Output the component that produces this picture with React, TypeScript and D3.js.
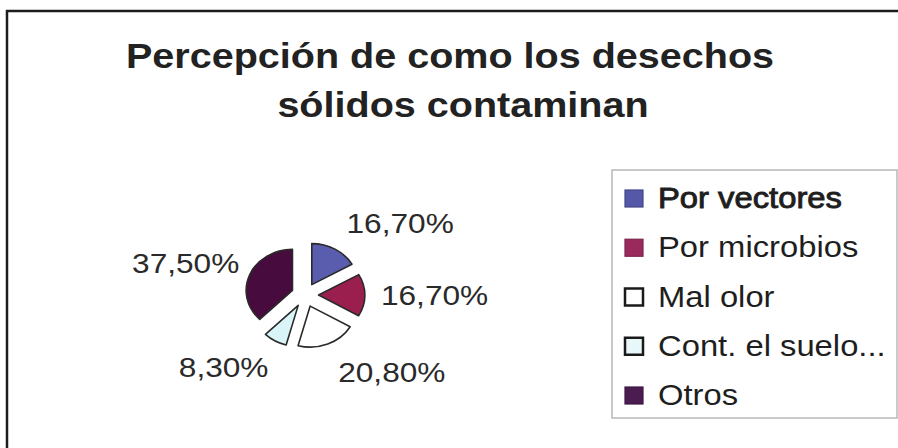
import React from "react";
import * as d3 from "d3";

const categories = ["Por vectores", "Por microbios", "Mal olor", "Cont. el suelo...", "Otros"];
const values = [16.7, 16.7, 20.8, 8.3, 37.5];
const valueLabels = ["16,70%", "16,70%", "20,80%", "8,30%", "37,50%"];
const sliceColors = ["#5a5cae", "#9a1f4e", "#ffffff", "#d9f5f8", "#470b3e"];
const swatchColors = ["#5558a8", "#9a2a5c", "#ffffff", "#e8f8fa", "#4a1c50"];
const titleLines = ["Percepción de como los desechos", "sólidos contaminan"];

const W = 898;
const H = 448;
const SX = 1.13; // horizontal stretch of the scanned original
const FONT = "Arial, 'Liberation Sans', Helvetica, sans-serif";

export default function App() {
  const cx = 305;
  const cy = 295;
  const r = 41;
  const explode = 12;

  const pie = d3.pie<number>().sort(null).value((d) => d)(values);
  const arc = d3.arc<d3.PieArcDatum<number>>().innerRadius(0).outerRadius(r);

  const labelR = r + explode + 8;

  const legendX = 612;
  const legendY = 170;
  const legendW = 285;
  const legendH = 248;
  const rowY = d3.scaleLinear().domain([0, categories.length - 1]).range([208, 405]);

  return (
    <svg
      width={W}
      height={H}
      style={{ position: "absolute", left: 0, top: 0, background: "#fff" }}
      fontFamily={FONT}
    >
      <rect x={0} y={0} width={W} height={H} fill="#fff" />
      {/* outer frame */}
      <line x1={6} y1={11} x2={W} y2={11} stroke="#1c1c1c" strokeWidth={2.5} />
      <line x1={7} y1={10} x2={7} y2={H} stroke="#1c1c1c" strokeWidth={2.5} />

      {/* title */}
      <text
        transform={`translate(450,68) scale(${SX},1)`}
        textAnchor="middle"
        fontSize={35}
        fontWeight="bold"
        fill="#222"
      >
        {titleLines[0]}
      </text>
      <text
        transform={`translate(463,117) scale(${SX},1)`}
        textAnchor="middle"
        fontSize={35}
        fontWeight="bold"
        fill="#222"
      >
        {titleLines[1]}
      </text>

      {/* pie */}
      <g transform={`translate(${cx},${cy}) scale(${SX},1)`}>
        {pie.map((p, i) => {
          const mid = (p.startAngle + p.endAngle) / 2;
          const ox = Math.sin(mid) * explode;
          const oy = -Math.cos(mid) * explode;
          return (
            <path
              key={i}
              d={arc(p) || ""}
              transform={`translate(${ox},${oy})`}
              fill={sliceColors[i]}
              stroke="#2a2a2a"
              strokeWidth={1.6}
              strokeLinejoin="round"
              vectorEffect="non-scaling-stroke"
            />
          );
        })}
      </g>

      {/* data labels */}
      {pie.map((p, i) => {
        const mid = (p.startAngle + p.endAngle) / 2;
        const s = Math.sin(mid);
        const c = Math.cos(mid);
        const px = cx + s * labelR * SX;
        const py = cy - c * labelR;
        const anchor = s > 0.2 ? "start" : s < -0.2 ? "end" : "middle";
        const x = anchor === "start" ? px + 7 : anchor === "end" ? px - 2 : px;
        const y = py + 10 - 22 * c;
        return (
          <text
            key={i}
            transform={`translate(${x},${y}) scale(${SX},1)`}
            textAnchor={anchor}
            fontSize={28}
            fill="#2a2a2a"
          >
            {valueLabels[i]}
          </text>
        );
      })}

      {/* legend */}
      <rect
        x={legendX}
        y={legendY}
        width={legendW}
        height={legendH}
        fill="#fff"
        stroke="#b8b8b8"
        strokeWidth={1.5}
      />
      {categories.map((name, i) => {
        const y = rowY(i);
        const outlined = i === 2 || i === 3;
        return (
          <g key={name}>
            <rect
              x={625}
              y={y - 18}
              width={18}
              height={17}
              fill={swatchColors[i]}
              stroke={outlined ? "#1a1a1a" : d3.color(swatchColors[i])!.darker(0.6).toString()}
              strokeWidth={outlined ? 2.5 : 1.2}
            />
            <text
              transform={`translate(658,${y}) scale(${SX},1)`}
              fontSize={29}
              fill="#1e1e1e"
              stroke={i === 0 ? "#1e1e1e" : "none"}
              strokeWidth={i === 0 ? 0.9 : 0}
            >
              {name}
            </text>
          </g>
        );
      })}
    </svg>
  );
}
